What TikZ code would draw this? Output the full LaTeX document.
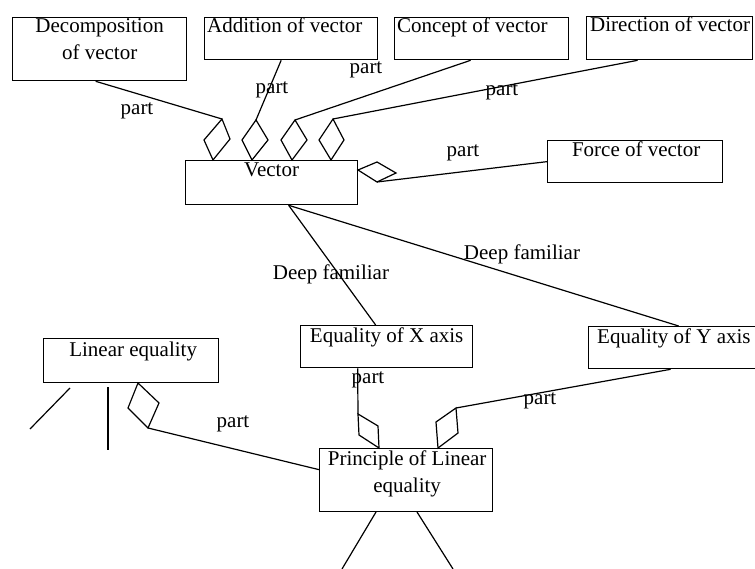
\documentclass[tikz,border=0pt]{standalone}
\usepackage{fontspec}
\setmainfont{Liberation Serif}
\begin{document}
\begin{tikzpicture}[x=1pt,y=-1pt,
  box/.style={draw, line width=1.3pt, inner sep=0pt, anchor=north west},
  lbl/.style={font=\fontsize{21}{27}\selectfont, inner sep=0pt, anchor=base},
  lblw/.style={lbl, anchor=base west},
  con/.style={line width=1.2pt},
  agg/.style={line width=1.2pt, line join=miter}]
\useasboundingbox (0,0) rectangle (755,569);

% concept boxes
\node[box, minimum width=174pt, minimum height=63pt] (dec) at (12,17) {};
\node[box, minimum width=173pt, minimum height=42pt] (add) at (204,17) {};
\node[box, minimum width=174pt, minimum height=42pt] (con) at (394,17) {};
\node[box, minimum width=166pt, minimum height=43pt] (dir) at (586,16) {};
\node[box, minimum width=172pt, minimum height=44pt] (vec) at (185,160) {};
\node[box, minimum width=175pt, minimum height=42pt] (frc) at (547,140) {};
\node[box, minimum width=172pt, minimum height=42pt] (eqx) at (300,325) {};
\node[box, minimum width=180pt, minimum height=42pt] (eqy) at (588,326) {};
\node[box, minimum width=175pt, minimum height=44pt] (lin) at (43,338) {};
\node[box, minimum width=173pt, minimum height=63pt] (pri) at (319,448) {};

% box titles (two-line titles are placed by the baseline of their last line)
\node[lbl, align=center] (dec-t) at ([yshift=-43pt]dec.north) {Decomposition\\of vector};
\node[lblw] (add-t) at (207,33) {Addition of vector};
\node[lblw] (con-t) at (397,33) {Concept of vector};
\node[lblw] (dir-t) at (590,32) {Direction of vector};
\node[lbl] (vec-t) at ([yshift=-17pt]vec.north) {Vector};
\node[lbl] (frc-t) at ([xshift=1pt,yshift=-17pt]frc.north) {Force of vector};
\node[lbl] (eqx-t) at ([yshift=-17pt]eqx.north) {Equality of X axis};
\node[lblw] (eqy-t) at (597,343) {Equality of Y axis};
\node[lbl] (lin-t) at ([xshift=2pt,yshift=-18pt]lin.north) {Linear equality};
\node[lbl, align=center] (pri-t) at ([xshift=1pt,yshift=-44pt]pri.north) {Principle of Linear\\equality};

% aggregation diamonds
\coordinate (d1t) at (222,119); \coordinate (d1b) at (213,160);
\draw[agg] (d1t) -- (230,139) -- (d1b) -- (204,140) -- cycle;
\coordinate (d2t) at (256,120); \coordinate (d2b) at (252,160);
\draw[agg] (d2t) -- (268,140) -- (d2b) -- (242,140) -- cycle;
\coordinate (d3t) at (295,120); \coordinate (d3b) at (292,160);
\draw[agg] (d3t) -- (307,140) -- (d3b) -- (281,140) -- cycle;
\coordinate (d4t) at (333,119); \coordinate (d4b) at (331,160);
\draw[agg] (d4t) -- (344,140) -- (d4b) -- (319,140) -- cycle;
\coordinate (d5l) at (358,170); \coordinate (d5b) at (377,182);
\draw[agg] (d5l) -- (377,162) -- (396,173) -- (d5b) -- cycle;
\coordinate (d6t) at (358,414); \coordinate (d6b) at (379,448);
\draw[agg] (d6t) -- (378,426) -- (d6b) -- (359,435) -- cycle;
\coordinate (d7t) at (456,408); \coordinate (d7b) at (438,448);
\draw[agg] (d7t) -- (458,433) -- (d7b) -- (436,422) -- cycle;
\coordinate (d8t) at (138,383); \coordinate (d8b) at (148,428);
\draw[agg] (d8t) -- (159,403) -- (d8b) -- (128,408) -- cycle;

% part-of connectors
\draw[con] ([xshift=-4pt]dec.south) -- (d1t);
\draw[con] ([xshift=-10pt]add.south) -- (d2t);
\draw[con] ([xshift=-11pt]con.south) -- (d3t);
\draw[con] ([xshift=-32pt]dir.south) -- (d4t);
\draw[con] (d5b) -- (frc.west);
\draw[con] ([xshift=-29pt]eqx.south) -- (d6t);
\draw[con] (d7t) -- ([xshift=-8pt]eqy.south);
\draw[con] (d8b) -- ([yshift=10.5pt]pri.west);

% familiarity connectors
\draw[con] ([xshift=17pt]vec.south) -- ([xshift=-11pt]eqx.north);
\draw[con] ([xshift=17pt]vec.south) -- (eqy.north);

% loose strokes
\coordinate (l1a) at (70,388); \coordinate (l1b) at (30,429);
\coordinate (l2a) at (108,387); \coordinate (l2b) at (108,450);
\coordinate (p1a) at (376,512); \coordinate (p1b) at (342,569);
\coordinate (p2a) at (417,512); \coordinate (p2b) at (453,569);
\draw[con] (l1a) -- (l1b);
\draw[con] (l2a) -- (l2b);
\draw[con] (p1a) -- (p1b);
\draw[con] (p2a) -- (p2b);

% connector labels
\node[lbl] (pt1) at (137,115) {part};
\node[lbl] (pt2) at (272,94) {part};
\node[lbl] (pt3) at (366,74) {part};
\node[lbl] (pt4) at (502,96) {part};
\node[lbl] (pt5) at (463,157) {part};
\node[lbl] (df1) at (331,280) {Deep familiar};
\node[lbl] (df2) at (522,260) {Deep familiar};
\node[lbl] (pt6) at (368,383) {part};
\node[lbl] (pt7) at (540,404) {part};
\node[lbl] (pt8) at (233,427) {part};
\end{tikzpicture}
\end{document}
